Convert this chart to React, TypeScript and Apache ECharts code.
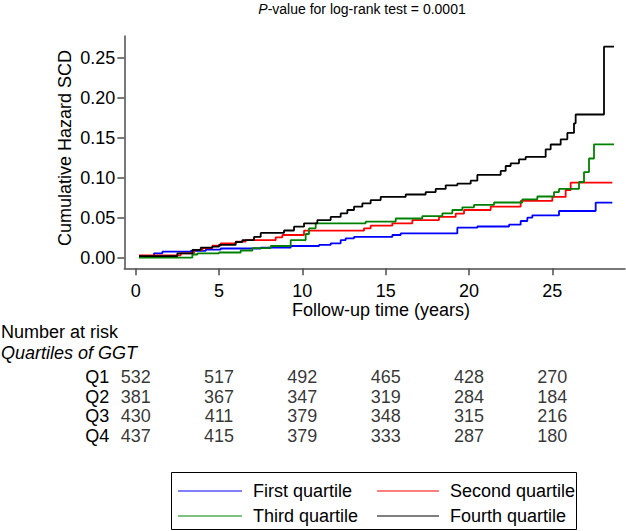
import React, { useEffect, useRef } from 'react';
import * as echarts from 'echarts';

// ---- Data ----
const xTicks = [0, 5, 10, 15, 20, 25];
const yTicks = [0, 0.05, 0.1, 0.15, 0.2, 0.25];

const seriesNames = ['First quartile', 'Second quartile', 'Third quartile', 'Fourth quartile'];
const seriesColors = ['#0000ff', '#ff0000', '#008000', '#000000'];

// First quartile (blue)
const q1Times = [0.2, 1.1, 1.6, 3.3, 4.2, 5.1, 7.5, 9.3, 11.0, 11.7, 12.3, 12.6, 13.1, 15.4, 15.9, 19.3, 20.5, 22.4, 23.1, 23.5, 23.8, 25.4, 27.6, 28.6];
const q1Hazard = [0.002, 0.0055, 0.0075, 0.0085, 0.01, 0.0115, 0.0125, 0.0146, 0.016, 0.018, 0.022, 0.0242, 0.026, 0.0284, 0.0304, 0.0375, 0.039, 0.0413, 0.0459, 0.05, 0.053, 0.0584, 0.0688, 0.0688];

// Second quartile (red)
const q2Times = [0.2, 2.7, 3.5, 4.0, 4.6, 5.1, 6.0, 6.6, 8.4, 8.8, 10.1, 13.7, 14.1, 15.4, 16.6, 18.2, 19.2, 19.7, 21.3, 23.1, 25.0, 25.8, 26.1, 28.6];
const q2Hazard = [0.003, 0.0055, 0.0096, 0.012, 0.015, 0.018, 0.02, 0.022, 0.0255, 0.0284, 0.0338, 0.0367, 0.04, 0.043, 0.047, 0.051, 0.055, 0.0596, 0.0638, 0.0709, 0.076, 0.0846, 0.0938, 0.0938];

// Third quartile (green)
const q3Times = [0.2, 3.4, 3.7, 5.0, 6.3, 7.0, 8.1, 9.3, 10.2, 10.4, 10.8, 13.8, 15.6, 17.2, 18.4, 19.0, 19.6, 20.3, 21.5, 23.2, 24.1, 25.1, 25.4, 26.6, 26.9, 27.2, 27.5, 28.7];
const q3Hazard = [0.0, 0.004, 0.0055, 0.0065, 0.009, 0.012, 0.0146, 0.022, 0.0296, 0.0367, 0.043, 0.045, 0.049, 0.052, 0.0555, 0.0596, 0.063, 0.066, 0.069, 0.073, 0.0765, 0.082, 0.086, 0.0946, 0.107, 0.124, 0.1417, 0.1417];

// Fourth quartile (black)
const q4Times = [0.2, 2.5, 3.4, 3.9, 4.6, 5.0, 6.0, 6.4, 7.1, 7.5, 8.9, 9.5, 10.1, 10.9, 11.7, 12.3, 12.7, 13.1, 13.6, 14.1, 14.7, 16.2, 17.4, 18.0, 18.6, 19.3, 20.1, 20.5, 21.9, 22.2, 22.5, 23.0, 23.4, 24.6, 24.9, 25.5, 25.9, 26.3, 26.4, 28.1, 28.7];
const q4Hazard = [0.002, 0.0055, 0.0096, 0.0125, 0.0138, 0.016, 0.0196, 0.022, 0.026, 0.031, 0.034, 0.0388, 0.043, 0.047, 0.051, 0.0555, 0.0596, 0.0638, 0.068, 0.072, 0.076, 0.079, 0.082, 0.086, 0.0904, 0.0925, 0.0963, 0.1034, 0.1084, 0.1146, 0.118, 0.123, 0.126, 0.1355, 0.1415, 0.148, 0.156, 0.168, 0.179, 0.2638, 0.2638];

// Number at risk table
const riskTimes = [0, 5, 10, 15, 20, 25];
const riskGroups = ['Q1', 'Q2', 'Q3', 'Q4'];
const riskQ1 = [532, 517, 492, 465, 428, 270];
const riskQ2 = [381, 367, 347, 319, 284, 184];
const riskQ3 = [430, 411, 379, 348, 315, 216];
const riskQ4 = [437, 415, 379, 333, 287, 180];

const titleText = '{i|P}{n|-value for log-rank test = 0.0001}';
const xTitle = 'Follow-up time (years)';
const yTitle = 'Cumulative Hazard SCD';
const tableTitle = 'Number at risk';
const tableSubtitle = 'Quartiles of GGT';

export default function App() {
  const ref = useRef<HTMLDivElement>(null);

  useEffect(() => {
    document.body.style.margin = '0';
    const chart = echarts.init(ref.current as HTMLDivElement, null, { renderer: 'svg' });
    const font = '"Liberation Sans", Arial, Helvetica, sans-serif';
    const axisColor = '#4d4d4d';
    const xMin = -0.684;
    const xMax = 29.36;

    const timesList = [q1Times, q2Times, q3Times, q4Times];
    const hazList = [q1Hazard, q2Hazard, q3Hazard, q4Hazard];
    const riskList = [riskQ1, riskQ2, riskQ3, riskQ4];

    const lineSeries = seriesNames.map((name, s) => ({
      name,
      type: 'line',
      step: 'end',
      xAxisIndex: 0,
      yAxisIndex: 0,
      showSymbol: false,
      symbol: 'none',
      silent: true,
      lineStyle: { color: seriesColors[s], width: 1.8 },
      itemStyle: { color: seriesColors[s] },
      data: timesList[s].map((t, i) => [t, hazList[s][i]]),
    }));

    const tableData: any[] = [];
    riskGroups.forEach((g, gi) => {
      riskTimes.forEach((t, ti) => {
        tableData.push([t, g, riskList[gi][ti]]);
      });
    });

    const legendRows = [
      { y: 491, items: [0, 1] },
      { y: 516, items: [2, 3] },
    ];
    const legendCols = [
      { lineX1: 178, lineX2: 242, textX: 253 },
      { lineX1: 377, lineX2: 439, textX: 450 },
    ];
    const legendGraphics: any[] = [
      {
        type: 'rect',
        shape: { x: 171.5, y: 472.5, width: 405, height: 57 },
        style: { fill: '#ffffff', stroke: '#000000', lineWidth: 1 },
      },
    ];
    legendRows.forEach((row) => {
      row.items.forEach((idx, c) => {
        const col = legendCols[c];
        legendGraphics.push({
          type: 'line',
          shape: { x1: col.lineX1, y1: row.y, x2: col.lineX2, y2: row.y },
          style: { stroke: seriesColors[idx], lineWidth: 1.2 },
        });
        legendGraphics.push({
          type: 'text',
          x: col.textX,
          y: row.y,
          style: {
            text: seriesNames[idx],
            fontSize: 18,
            fontFamily: font,
            fill: '#000',
            align: 'left',
            verticalAlign: 'middle',
          },
        });
      });
    });

    chart.setOption({
      animation: false,
      textStyle: { fontFamily: font },
      grid: [
        { left: 124.3, right: 1, top: 36, height: 232.3 },
        { left: 124.3, right: 1, top: 367.2, height: 78.8 },
      ],
      xAxis: [
        {
          type: 'value',
          gridIndex: 0,
          min: xMin,
          max: xMax,
          axisLine: { show: true, onZero: false, lineStyle: { color: axisColor, width: 1.5 } },
          axisTick: { show: true, customValues: xTicks, length: 7, lineStyle: { color: axisColor, width: 1.5 } },
          axisLabel: { customValues: xTicks, margin: 14, fontSize: 18, color: '#000', fontFamily: font },
          splitLine: { show: false },
        },
        {
          type: 'value',
          gridIndex: 1,
          min: xMin,
          max: xMax,
          show: false,
        },
      ],
      yAxis: [
        {
          type: 'value',
          gridIndex: 0,
          min: -0.01325,
          max: 0.2771,
          axisLine: { show: true, onZero: false, lineStyle: { color: axisColor, width: 1.5 } },
          axisTick: { show: true, customValues: yTicks, length: 7, lineStyle: { color: axisColor, width: 1.5 } },
          axisLabel: {
            customValues: yTicks,
            margin: 9,
            fontSize: 18,
            color: '#000',
            fontFamily: font,
            formatter: (v: number) => v.toFixed(2),
          },
          splitLine: { show: false },
        },
        {
          type: 'category',
          gridIndex: 1,
          data: riskGroups,
          inverse: true,
          axisLine: { show: false },
          axisTick: { show: false },
          splitLine: { show: false },
          axisLabel: { interval: 0, margin: 15, fontSize: 18, color: '#000', fontFamily: font },
        },
      ],
      series: [
        ...lineSeries,
        {
          name: 'Number at risk',
          type: 'scatter',
          xAxisIndex: 1,
          yAxisIndex: 1,
          symbolSize: 1,
          silent: true,
          itemStyle: { color: 'rgba(0,0,0,0)' },
          label: {
            show: true,
            position: 'inside',
            fontSize: 18,
            color: '#000',
            fontFamily: font,
            formatter: (p: any) => String(p.value[2]),
          },
          labelLayout: { hideOverlap: false },
          data: tableData,
        },
      ],
      graphic: [
        {
          type: 'text',
          x: 362,
          y: 9,
          style: {
            text: titleText,
            align: 'center',
            verticalAlign: 'middle',
            fontSize: 14,
            fontFamily: font,
            fill: '#000',
            rich: {
              i: { fontStyle: 'italic', fontSize: 14, fontFamily: font, fill: '#000' },
              n: { fontSize: 14, fontFamily: font, fill: '#000' },
            },
          },
        },
        {
          type: 'text',
          x: 65,
          y: 148,
          rotation: Math.PI / 2,
          style: {
            text: yTitle,
            align: 'center',
            verticalAlign: 'middle',
            fontSize: 18,
            fontFamily: font,
            fill: '#000',
          },
        },
        {
          type: 'text',
          x: 381,
          y: 310,
          style: {
            text: xTitle,
            align: 'center',
            verticalAlign: 'middle',
            fontSize: 18,
            fontFamily: font,
            fill: '#000',
          },
        },
        {
          type: 'text',
          x: 1,
          y: 332,
          style: {
            text: tableTitle,
            align: 'left',
            verticalAlign: 'middle',
            fontSize: 18,
            fontFamily: font,
            fill: '#000',
          },
        },
        {
          type: 'text',
          x: 1,
          y: 353,
          style: {
            text: tableSubtitle,
            align: 'left',
            verticalAlign: 'middle',
            fontSize: 18,
            fontStyle: 'italic',
            fontFamily: font,
            fill: '#000',
          },
        },
        ...legendGraphics,
      ],
    });

    return () => chart.dispose();
  }, []);

  return <div ref={ref} style={{ width: 626, height: 531 }} />;
}
